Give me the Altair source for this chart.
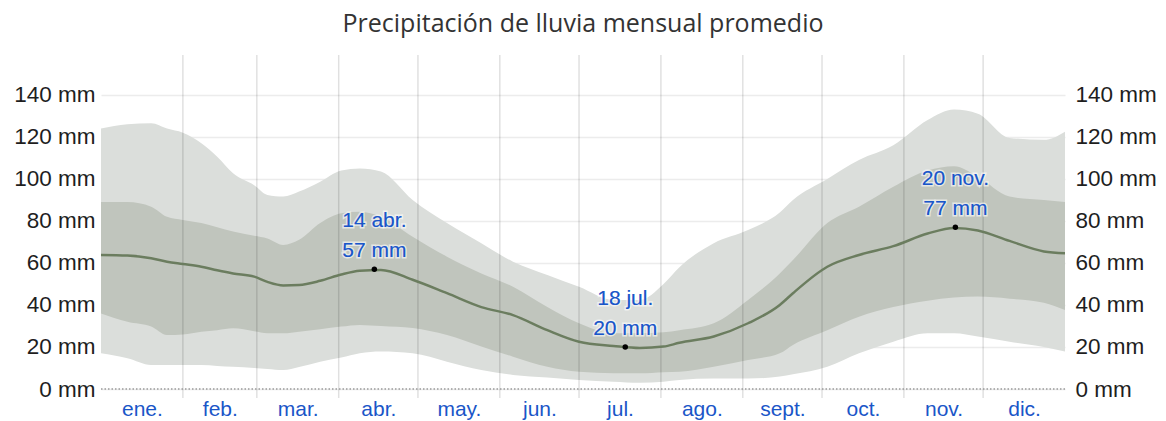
import altair as alt
import pandas as pd

# day of year (0 = 1 Jan)
days = [0, 10, 19, 25, 31, 38, 44, 50, 58, 63, 69, 75, 83, 91, 98, 106, 118, 131, 144, 156,
        169, 181, 194, 204, 213, 219, 232, 245, 257, 262, 275, 287, 300, 313, 323, 332, 344, 357, 365]
p10 = [17, 14.6, 11.4, 11.4, 11.4, 11.4, 11, 10.6, 10, 9.5, 9, 10.5, 13, 15, 17, 17.8, 17, 13, 9, 6.7,
       5.5, 4.3, 3.5, 3, 3.5, 4.3, 5, 5, 5.9, 7, 10.6, 17, 22.5, 26.5, 26.5, 25, 22.5, 20, 17.8]
p25 = [36, 32, 29.7, 25.7, 26, 27.3, 28, 28.9, 27.5, 26.5, 26.5, 27.3, 28.5, 29.7, 30.5, 30, 29, 25.7, 20.2, 15.4,
       10.6, 8.2, 7.5, 7.5, 8, 8.2, 10.6, 13.8, 17, 21, 28, 34.4, 39, 42, 43.5, 44, 43, 41, 37.6]
median = [63.8, 63.5, 62.2, 60.6, 59.5, 58.2, 56.5, 55, 53.5, 51, 49.3, 49.5, 51.5, 54.5, 56.3, 56.7, 52, 45.6, 39, 35.2,
          28, 22.5, 20.5, 19.5, 20.2, 22, 25, 31.3, 40, 45.6, 58.2, 63.8, 68, 74, 76.7, 75.5, 70.5, 65.5, 64.6]
p75 = [89, 89, 86.8, 82, 80.5, 79, 77, 75, 73, 71.7, 68.6, 71, 79, 83.7, 84.4, 82, 72.5, 63, 55, 48.7,
       39, 31.3, 26.5, 26.5, 27, 28, 31.3, 42.4, 55, 61.4, 79, 86.8, 96.3, 104, 106, 101, 91.6, 90, 89]
p90 = [124, 126, 126.5, 124, 122, 117, 110.6, 102.7, 97, 92.4, 91.6, 94, 98.7, 104, 105, 103.5, 90, 79, 69.4, 60.6,
       54.3, 48.7, 42.4, 42.4, 50, 58, 69.4, 75.7, 84, 90, 100, 109, 116, 128, 133, 131, 119.5, 118.6, 122.5]

month_names = ["ene.", "feb.", "mar.", "abr.", "may.", "jun.", "jul.", "ago.", "sept.", "oct.", "nov.", "dic."]
month_starts = [0, 31, 59, 90, 120, 151, 181, 212, 243, 273, 304, 334, 365]
month_mids = [(month_starts[i] + month_starts[i + 1]) / 2 for i in range(12)]

ann_day = [103.5, 198.5, 323.5]
ann_val = [57, 20, 77]
ann_date = ["14 abr.", "18 jul.", "20 nov."]
ann_mm = ["57 mm", "20 mm", "77 mm"]

df = pd.DataFrame({"day": days, "p10": p10, "p25": p25, "median": median, "p75": p75, "p90": p90})
bounds = pd.DataFrame({"day": month_starts[1:-1]})
ann = pd.DataFrame({"day": ann_day, "val": ann_val, "date": ann_date, "mm": ann_mm})
zero = pd.DataFrame({"v": [0]})

W, H = 964, 334
BLUE = "#1a56c8"
FONT = "Liberation Sans"
xscale = alt.Scale(domain=[0, 365], nice=False, zero=False)
yscale = alt.Scale(domain=[0, 159], nice=False)

label_expr = "[" + ",".join(f"'{m}'" for m in month_names) + "][floor(datum.value / 30.42)]"
xaxis = alt.Axis(values=month_mids, labelExpr=label_expr, grid=False, ticks=False, domain=False,
                 title=None, labelColor=BLUE, labelFont=FONT, labelFontSize=21,
                 labelPadding=9)
yaxis_left = alt.Axis(values=list(range(0, 141, 20)), labelExpr="datum.value + ' mm'", title=None,
                      grid=True, gridColor="#ececec", gridWidth=1.5, ticks=False, domain=False,
                      labelColor="#1e1e1e", labelFont=FONT, labelFontSize=22.5, labelPadding=6)
yaxis_right = alt.Axis(values=list(range(0, 141, 20)), labelExpr="datum.value + ' mm'", title=None,
                       orient="right", grid=False, ticks=False, domain=False,
                       labelColor="#1e1e1e", labelFont=FONT, labelFontSize=22.5, labelPadding=10)

base = alt.Chart(df)
X = alt.X("day:Q", scale=xscale, axis=xaxis)

outer = base.mark_area(color="#dbdedb", interpolate="monotone").encode(
    x=X,
    y=alt.Y("p10:Q", scale=yscale, axis=yaxis_left),
    y2="p90:Q",
)
inner = base.mark_area(color="#c0c5bd", interpolate="monotone").encode(
    x=X,
    y=alt.Y("p25:Q", scale=yscale, axis=None),
    y2="p75:Q",
)
line = base.mark_line(color="#6b7d5f", strokeWidth=2.5, interpolate="monotone").encode(
    x=X,
    y=alt.Y("median:Q", scale=yscale, axis=yaxis_right),
)
vrules = alt.Chart(bounds).mark_rule(color="#000000", opacity=0.12, strokeWidth=1.5).encode(
    x=X,
    y=alt.value(0),
    y2=alt.value(H + 9),
)
zrule = alt.Chart(zero).mark_rule(color="#9a9a9a", strokeDash=[1.5, 2], strokeWidth=1.5).encode(
    y=alt.Y("v:Q", scale=yscale, axis=None),
    x=alt.value(0),
    x2=alt.value(W),
)
points = alt.Chart(ann).mark_point(filled=True, color="black", size=30, opacity=1).encode(
    x=X,
    y=alt.Y("val:Q", scale=yscale, axis=None),
)


def text_layer(field, dy, halo):
    kw = dict(color=BLUE, font=FONT, fontSize=21, baseline="bottom", align="center", dy=dy)
    if halo:
        kw.update(stroke="white", strokeWidth=3, strokeOpacity=0.6)
    return alt.Chart(ann).mark_text(**kw).encode(
        x=X,
        y=alt.Y("val:Q", scale=yscale, axis=None),
        text=f"{field}:N",
    )


texts = [text_layer("date", -38, True), text_layer("mm", -8, True),
         text_layer("date", -38, False), text_layer("mm", -8, False)]

chart = alt.layer(outer, inner, vrules, zrule, line, points, *texts).resolve_axis(
    y="independent"
).properties(
    width=W, height=H,
    title=alt.Title("Precipitación de lluvia mensual promedio", font="Open Sans", fontSize=25,
                    fontWeight="normal", color="#333333", anchor="middle", offset=17),
    autosize=alt.AutoSizeParams(type="none"),
    padding={"left": 93, "top": 47, "right": 93, "bottom": 40},
).configure_view(stroke=None)

chart.save("out.html", embed_options={"renderer": "svg", "actions": False})
